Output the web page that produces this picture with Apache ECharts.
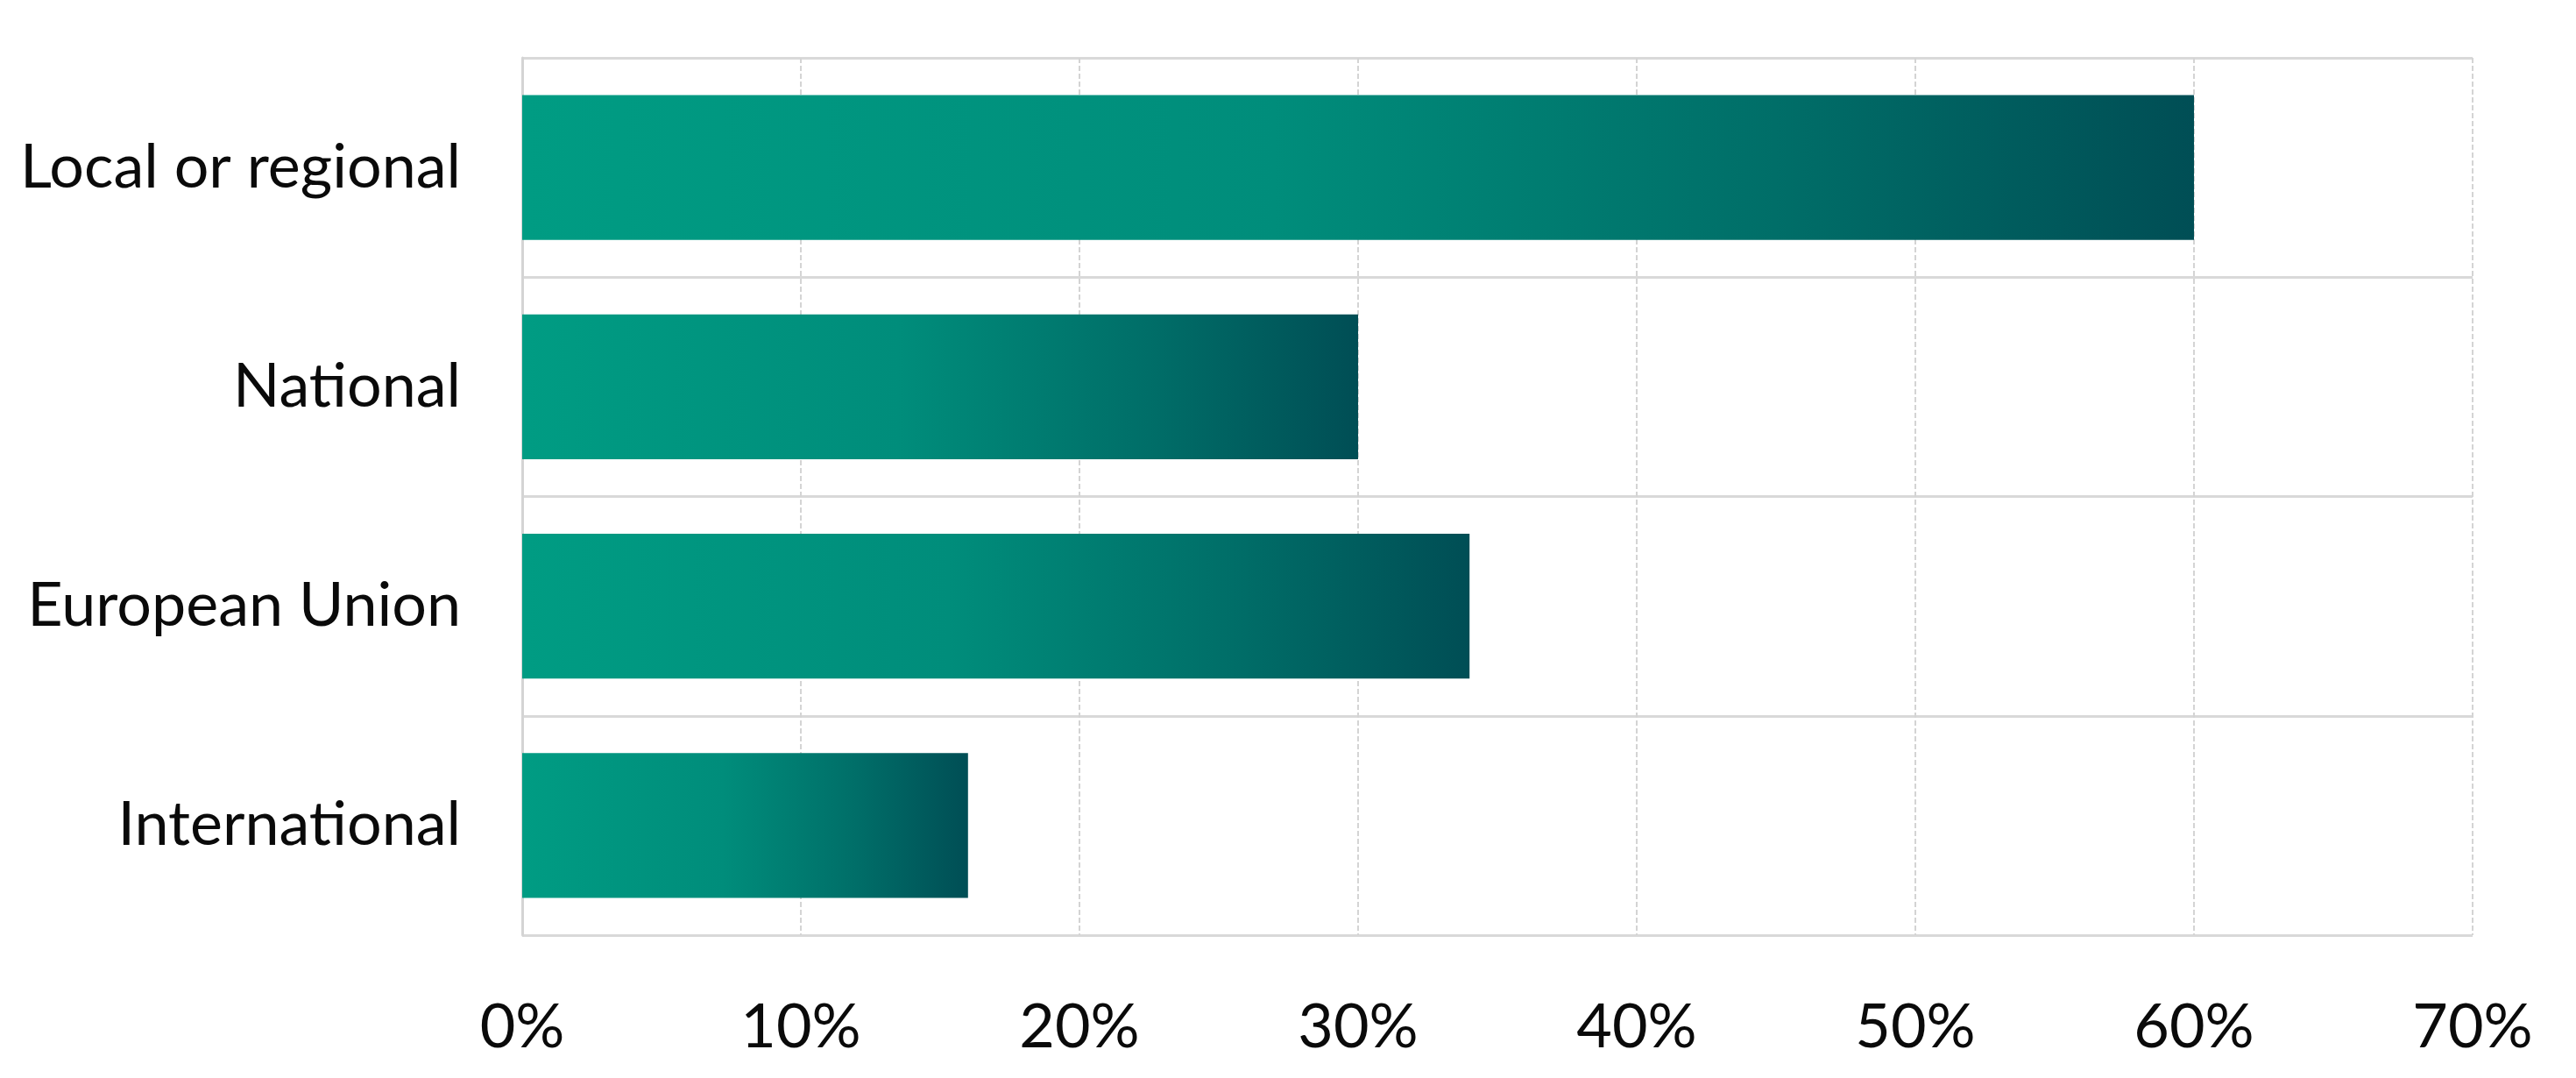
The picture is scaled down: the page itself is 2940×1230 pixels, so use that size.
<!DOCTYPE html>
<html>
<head>
<meta charset="utf-8">
<script src="https://cdn.jsdelivr.net/npm/echarts@6/dist/echarts.min.js"></script>
<style>
  html, body { margin: 0; padding: 0; background: #fff; }
  #mainCanvas { width: 2940px; height: 1230px; }
</style>
</head>
<body>
<div id="mainCanvas"></div>
<script>
var categories = ["Local or regional", "National", "European Union", "International"];
var shares = [60, 30, 34, 16];
var tickValues = [0, 10, 20, 30, 40, 50, 60, 70];

var myChart = echarts.init(document.getElementById("mainCanvas"));

var barColor = new echarts.graphic.LinearGradient(0, 0, 1, 0, [
    { offset: 0, color: "#009C83" },
    { offset: 0.45, color: "#008D7B" },
    { offset: 0.75, color: "#006E68" },
    { offset: 1, color: "#004E55" }
]);

var option = {
    backgroundColor: "#fff",
    animation: false,
    grid: {
        left: 596,
        right: 118,
        top: 66,
        bottom: 163
    },
    xAxis: {
        type: "value",
        min: tickValues[0],
        max: tickValues[tickValues.length - 1],
        interval: 10,
        axisLine: { show: false },
        axisTick: { show: false },
        axisLabel: {
            margin: 70,
            fontFamily: "Lato",
            fontSize: 70,
            color: "#0a0a0a",
            formatter: function (v) { return v + "%"; }
        },
        splitLine: {
            show: true,
            lineStyle: { color: "#d4d4d4", width: 2, type: [6, 3] }
        }
    },
    yAxis: {
        type: "category",
        data: categories,
        inverse: true,
        axisLine: { show: true, lineStyle: { color: "#d4d4d4", width: 3 } },
        axisTick: { show: false },
        axisLabel: {
            margin: 70,
            fontFamily: "Lato",
            fontSize: 70,
            color: "#0a0a0a"
        },
        splitLine: {
            show: true,
            lineStyle: { color: "#d9d9d9", width: 3 }
        }
    },
    series: [
        {
            name: "share",
            type: "bar",
            data: shares,
            barCategoryGap: "34%",
            itemStyle: { color: barColor }
        }
    ]
};

myChart.setOption(option);
</script>
</body>
</html>
